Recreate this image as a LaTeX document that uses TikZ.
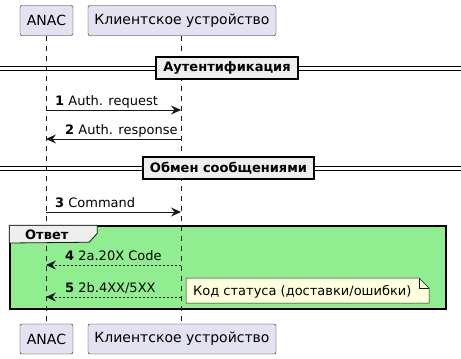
\documentclass[tikz,border=0pt]{standalone}
\usepackage{fontspec}
\setmainfont{DejaVu Sans}
\usetikzlibrary{arrows.meta, positioning}
\definecolor{partfill}{HTML}{E2E2F0}
\definecolor{divfill}{HTML}{EEEEEE}
\definecolor{grpfill}{HTML}{90EE90}
\definecolor{notefill}{HTML}{FEFFDD}
\definecolor{linecol}{HTML}{181818}

\begin{document}
\begin{tikzpicture}[x=1pt, y=-1pt,
    part/.style={draw=linecol, fill=partfill, rounded corners=2pt, minimum height=30pt, inner sep=0pt, font=\fontsize{14}{16}\selectfont},
    lifeline/.style={draw=linecol, line width=0.5pt, dash pattern=on 5pt off 5pt},
    msg/.style={draw=linecol, line width=0.8pt, -{Stealth[length=10pt, width=9pt, inset=3.5pt]}},
    reply/.style={msg, dash pattern=on 2pt off 2pt},
    lbl/.style={anchor=base west, inner sep=0pt, font=\fontsize{13}{15}\selectfont},
    divbox/.style={draw=black, line width=1.5pt, fill=divfill, minimum height=22pt, inner sep=0pt, font=\fontsize{13}{15}\selectfont\bfseries}]
    \useasboundingbox (0,0) rectangle (461,359);

    % participants
    \node (anacTop) [part, minimum width=53pt] at (46.5,20.5) {ANAC};
    \node (devTop) [part, minimum width=188pt] at (182,20.5) {Клиентское устройство};
    \node (anacBot) [part, minimum width=53pt] at (46.5,339) {ANAC};
    \node (devBot) [part, minimum width=188pt] at (182,339) {Клиентское устройство};

    % group background first
    \node (grp) [draw=black, line width=1.5pt, fill=grpfill, minimum width=436pt, minimum height=83pt, inner sep=0pt] at (228,267.5) {};

    \draw [lifeline] (anacTop.south -| 46,0) -- (anacBot.north -| 46,0);
    \draw [lifeline] (devTop.south -| 181,0) -- (devBot.north -| 181,0);

    \draw [draw=linecol, fill=divfill, line width=0.8pt] (grp.north west) -- ++(88,0) -- ++(0,8) -- ++(-8,9) -- (grp.west |- 0,243) -- cycle;
    \node (grpTitle) [lbl, font=\fontsize{13}{15}\selectfont\bfseries] at (25,239) {Ответ};

    % dividers
    \draw [line width=0.9pt] (0,66) -- (461,66) (0,70) -- (461,70);
    \node (div1) [divbox, minimum width=142pt] at (227,68) {Аутентификация};
    \draw [line width=0.9pt] (0,166) -- (461,166) (0,170) -- (461,170);
    \node (div2) [divbox, minimum width=171pt] at (228.5,168) {Обмен сообщениями};

    % message ends on the lifelines
    \foreach \i/\y in {1/110, 2/139, 3/212, 4/265, 5/297} {
        \coordinate (a\i) at (46,\y);
        \coordinate (d\i) at (181,\y);
    }

    \draw [msg] (a1) -- (d1);
    \node (m1) [lbl] at (55,105) {\textbf{1} Auth. request};
    \draw [msg] (d2) -- (a2);
    \node (m2) [lbl] at (65,134) {\textbf{2} Auth. response};
    \draw [msg] (a3) -- (d3);
    \node (m3) [lbl] at (55,207) {\textbf{3} Command};
    \draw [reply] (d4) -- (a4);
    \node (m4) [lbl] at (65,260) {\textbf{4} 2a.20X Code};
    \draw [reply] (d5) -- (a5);
    \node (m5) [lbl] at (65,292) {\textbf{5} 2b.4XX/5XX};

    % note
    \draw [draw=linecol, fill=notefill, line width=0.5pt] (186,278) -- (419,278) -- (429,288) -- (429,303) -- (186,303) -- cycle;
    \draw [draw=linecol, line width=0.5pt] (419,278) -- (419,288) -- (429,288);
    \node (note) [lbl] at (193,295) {Код статуса (доставки/ошибки)};
\end{tikzpicture}
\end{document}
